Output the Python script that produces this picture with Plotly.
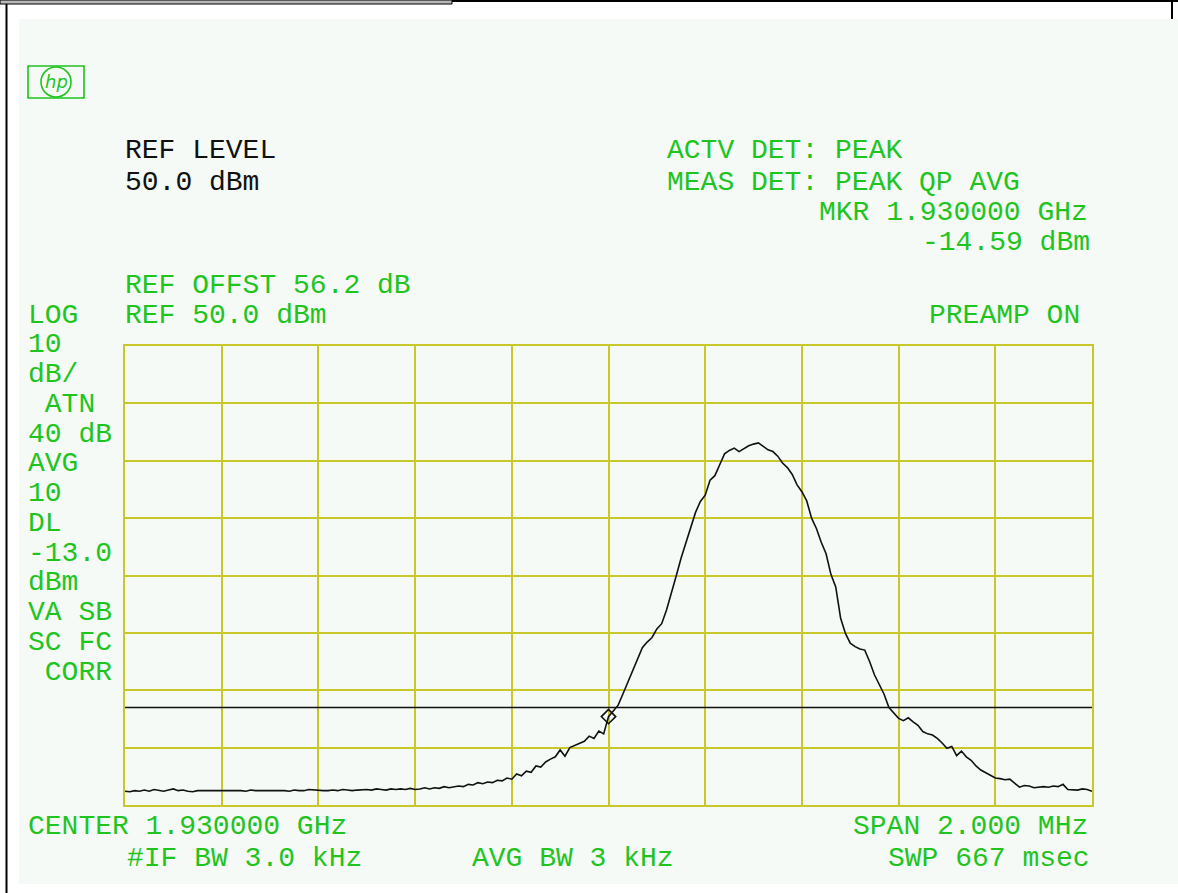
import plotly.graph_objects as go

# ---------------- data ----------------
center_mhz = 1930.0
span_mhz = 2.0
ref_level_dbm = 50.0
db_per_div = 10.0
n_vdiv = 8
display_line_dbm = -13.0
marker_freq_mhz = 1930.0
marker_dbm = -14.59

trace_dbm = [
    -27.6, -27.7, -27.5, -27.6, -27.4, -27.6, -27.3, -27.5, -27.6, -27.4,
    -27.2, -27.5, -27.4, -27.6, -27.7, -27.5, -27.5, -27.4, -27.5, -27.5,
    -27.5, -27.5, -27.5, -27.5, -27.5, -27.6, -27.4, -27.5, -27.5, -27.4,
    -27.5, -27.5, -27.4, -27.5, -27.6, -27.4, -27.5, -27.5, -27.3, -27.4,
    -27.5, -27.5, -27.5, -27.4, -27.5, -27.3, -27.4, -27.5, -27.4, -27.3,
    -27.3, -27.4, -27.2, -27.3, -27.4, -27.2, -27.3, -27.2, -27.3, -27.1,
    -27.3, -27.2, -27.0, -27.2, -27.0, -27.1, -26.8, -27.0, -26.9, -26.7,
    -26.8, -26.4, -26.5, -26.1, -26.3, -26.0, -26.1, -25.7, -25.8, -25.3,
    -25.5, -24.6, -24.9, -24.1, -24.3, -23.2, -23.4, -22.5, -22.0, -21.6,
    -20.4, -21.5, -20.0, -19.6, -19.2, -18.9, -18.0, -18.4, -17.1, -17.6,
    -14.6, -13.5, -12.6, -10.6, -8.6, -6.9, -4.7, -2.6, -1.6, -0.8,
    0.7, 1.6, 4.0, 6.8, 9.9, 13.0, 15.8, 18.6, 21.0, 22.9,
    24.0, 26.6, 27.4, 29.3, 31.2, 31.8, 32.2, 31.6, 32.1, 32.6,
    32.9, 33.1, 32.5, 31.9, 31.6, 30.8, 29.6, 28.8, 27.6, 25.8,
    24.6, 23.0, 20.0, 18.2, 15.8, 13.8, 10.2, 8.0, 2.6, -0.1,
    -1.8, -2.4, -2.8, -3.0, -5.0, -7.3, -9.0, -10.7, -13.0, -14.0,
    -14.9, -15.3, -14.8, -15.5, -16.1, -17.2, -17.6, -17.8, -18.4, -19.2,
    -20.1, -19.8, -21.4, -20.6, -21.6, -22.2, -23.2, -23.9, -24.4, -24.9,
    -25.3, -25.4, -25.6, -25.5, -26.2, -26.9, -26.6, -26.7, -27.0, -26.9,
    -26.8, -26.9, -26.7, -26.8, -26.4, -27.3, -27.4, -27.4, -27.2, -27.3,
    -27.6,
]

left_labels = ["10", "dB/", " ATN", "40 dB", "AVG", "10", "DL", "-13.0",
               "dBm", "VA SB", "SC FC", " CORR"]

n_pts = len(trace_dbm)
f_start = center_mhz - span_mhz / 2
f_stop = center_mhz + span_mhz / 2
freqs_mhz = [f_start + i * span_mhz / (n_pts - 1) for i in range(n_pts)]
bottom_dbm = ref_level_dbm - n_vdiv * db_per_div

# ---------------- styling ----------------
W, H = 1178, 893
GREEN = "#1fc41f"
GRID = "#c8c82a"
BG = "#f5faf6"
FONT = "Liberation Mono"
FS = 28

px0, px1 = 125, 1092
py0, py1 = 346, 805


def fx(x):
    return x / W


def fy(y):
    return 1 - y / H


fig = go.Figure()
fig.add_trace(go.Scatter(
    x=freqs_mhz, y=trace_dbm, mode="lines",
    line=dict(color="#111111", width=1.6), hoverinfo="skip", showlegend=False))
fig.add_trace(go.Scatter(
    x=[marker_freq_mhz], y=[marker_dbm], mode="markers",
    marker=dict(symbol="diamond-open", size=11, color="#111111", line=dict(width=1.6)),
    showlegend=False))

shapes = [
    # light screen background
    dict(type="rect", xref="paper", yref="paper", x0=fx(19), x1=fx(1178), y0=fy(884), y1=fy(19),
         fillcolor=BG, line=dict(width=0), layer="below"),
    # left black frame line
    dict(type="line", xref="paper", yref="paper", x0=fx(6.5), x1=fx(6.5), y0=0, y1=1,
         line=dict(color="black", width=2)),
    # top grey bar
    dict(type="rect", xref="paper", yref="paper", x0=fx(0), x1=fx(452), y0=fy(4), y1=fy(0),
         fillcolor="#b8b8b8", line=dict(color="black", width=1)),
    dict(type="line", xref="paper", yref="paper", x0=fx(452), x1=fx(1178), y0=fy(1), y1=fy(1),
         line=dict(color="black", width=2)),
    dict(type="line", xref="paper", yref="paper", x0=fx(1172), x1=fx(1172), y0=fy(19), y1=fy(0),
         line=dict(color="black", width=2)),
    # display line
    dict(type="line", xref="x", yref="y", x0=f_start, x1=f_stop, y0=display_line_dbm, y1=display_line_dbm,
         line=dict(color="#111111", width=1.6)),
    # hp logo
    dict(type="rect", xref="paper", yref="paper", x0=fx(28), x1=fx(84), y0=fy(98), y1=fy(66),
         line=dict(color=GREEN, width=1.6), fillcolor="rgba(0,0,0,0)"),
    dict(type="circle", xref="paper", yref="paper", x0=fx(41), x1=fx(71), y0=fy(97), y1=fy(67),
         line=dict(color=GREEN, width=1.6), fillcolor=BG),
]

annotations = []


def txt(s, x, y, color=GREEN, anchor="left", size=FS, family=FONT):
    annotations.append(dict(
        text=s.replace(" ", "&nbsp;") if s.startswith(" ") else s,
        xref="paper", yref="paper", x=fx(x), y=fy(y), xanchor=anchor, yanchor="middle",
        showarrow=False, font=dict(family=family, size=size, color=color)))


txt("<i>hp</i>", 56, 82, anchor="center", size=18, family="DejaVu Sans")

txt("REF LEVEL", 123, 151, color="#111111")
txt("50.0 dBm", 123, 183, color="#111111")
txt("ACTV DET: PEAK", 665, 151)
txt("MEAS DET: PEAK QP AVG", 665, 182)
txt("MKR 1.930000 GHz", 1090, 213, anchor="right")
txt("-14.59 dBm", 1092, 243, anchor="right")
txt("REF OFFST 56.2 dB", 123, 285)
txt("LOG", 26, 315)
txt("REF 50.0 dBm", 123, 315)
txt("PREAMP ON", 1082, 315, anchor="right")

for k, s in enumerate(left_labels):
    txt(s, 26, 315 + 29.75 * (k + 1))

txt("CENTER 1.930000 GHz", 26, 826)
txt("#IF BW 3.0 kHz", 125, 858)
txt("AVG BW 3 kHz", 470, 858)
txt("SPAN 2.000 MHz", 1090, 826, anchor="right")
txt("SWP 667 msec", 1092, 858, anchor="right")

axis_common = dict(showgrid=True, gridcolor=GRID, gridwidth=2, showline=True, linecolor=GRID,
                   linewidth=2, mirror=True, zeroline=False, showticklabels=False, ticks="")

fig.update_layout(
    width=W, height=H,
    margin=dict(l=0, r=0, t=0, b=0),
    paper_bgcolor="white", plot_bgcolor=BG,
    xaxis=dict(domain=[fx(px0), fx(px1)], range=[f_start, f_stop], dtick=span_mhz / 10,
               tick0=f_start, **axis_common),
    yaxis=dict(domain=[fy(py1), fy(py0)], range=[bottom_dbm, ref_level_dbm], dtick=db_per_div,
               tick0=bottom_dbm, **axis_common),
    shapes=shapes, annotations=annotations, showlegend=False,
)

fig.write_html("out.html", config={"displayModeBar": False},
               post_script="document.body.style.margin='0px';document.body.style.padding='0px';")
